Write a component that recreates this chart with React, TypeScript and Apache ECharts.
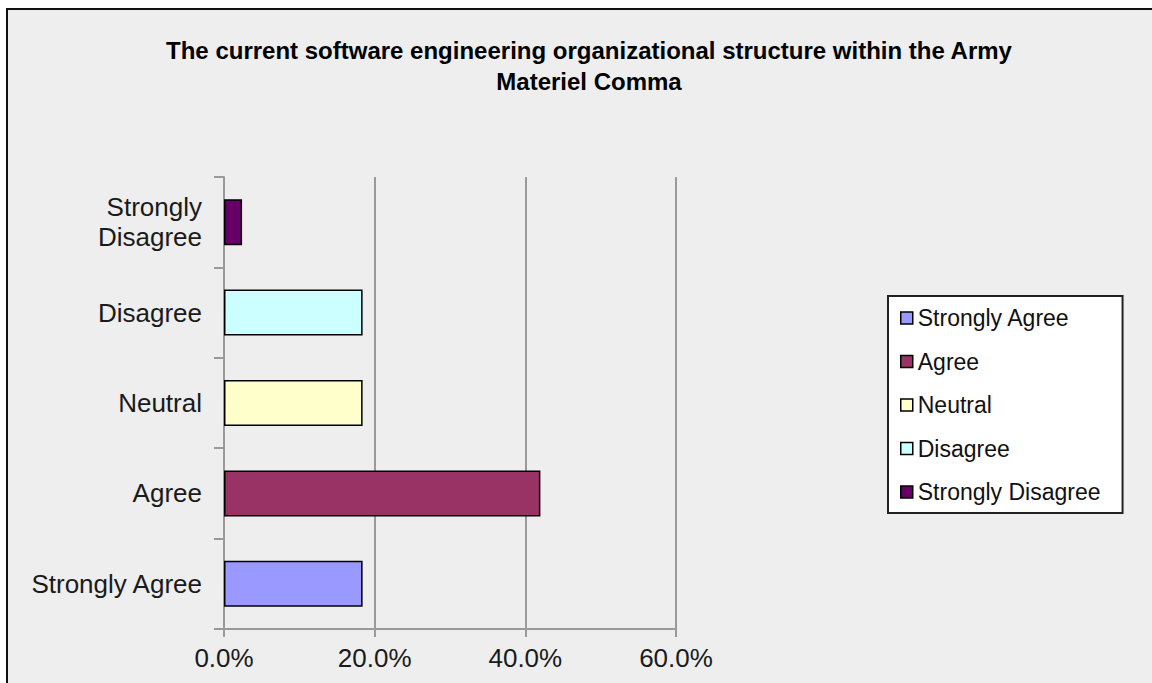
import React, { useEffect, useRef } from "react";
import * as echarts from "echarts";

const titleLines = [
  "The current software engineering organizational structure within the Army",
  "Materiel Comma",
];
const categories = ["Strongly Agree", "Agree", "Neutral", "Disagree", "Strongly Disagree"];
const axisLabels = ["Strongly Agree", "Agree", "Neutral", "Disagree", "Strongly\nDisagree"];
const values = [18.4, 42.0, 18.4, 18.4, 2.4];
const colors = ["#9999ff", "#993366", "#ffffcc", "#ccffff", "#660066"];
const xTicks = [0, 20, 40, 60];

const FONT = "'Liberation Sans', Arial, sans-serif";

export default function App() {
  const ref = useRef<HTMLDivElement>(null);
  useEffect(() => {
    if (!ref.current) return;
    const chart = echarts.init(ref.current, null, { renderer: "svg" });
    const series = categories.map((name, i) => ({
      name,
      type: "bar",
      stack: "all",
      barWidth: 46,
      data: values.map((v, j) => (j === i ? v : "-")),
      itemStyle: { color: colors[i], borderColor: "#000", borderWidth: 1.5 },
    }));
    chart.setOption({
      animation: false,
      backgroundColor: "#eeeeee",
      textStyle: { fontFamily: FONT },
      graphic: [
        { type: "rect", z: 100, shape: { x: 0, y: 0, width: 1152, height: 8 }, style: { fill: "#ffffff" } },
        { type: "rect", z: 100, shape: { x: 0, y: 0, width: 6, height: 683 }, style: { fill: "#ffffff" } },
        { type: "line", z: 101, shape: { x1: 6, y1: 9, x2: 1152, y2: 9 }, style: { stroke: "#111", lineWidth: 2 } },
        { type: "line", z: 101, shape: { x1: 7, y1: 8, x2: 7, y2: 683 }, style: { stroke: "#111", lineWidth: 2 } },
        {
          type: "text",
          z: 101,
          x: 589,
          y: 35,
          style: {
            text: titleLines.join("\n"),
            font: `bold 24px ${FONT}`,
            fill: "#000",
            textAlign: "center",
            textVerticalAlign: "top",
            lineHeight: 31,
          },
        },
      ],
      grid: { left: 224, top: 177, width: 452, height: 452, containLabel: false },
      xAxis: {
        type: "value",
        min: xTicks[0],
        max: xTicks[xTicks.length - 1],
        interval: 20,
        axisLine: { show: true, lineStyle: { color: "#9a9a9a", width: 2 } },
        axisTick: { show: true, length: 8, lineStyle: { color: "#9a9a9a", width: 2 } },
        splitLine: { show: true, lineStyle: { color: "#9a9a9a", width: 2 } },
        axisLabel: {
          margin: 16,
          fontSize: 26,
          color: "#1a1a1a",
          fontFamily: FONT,
          formatter: (v: number) => `${v.toFixed(1)}%`,
        },
      },
      yAxis: {
        type: "category",
        data: categories,
        axisLine: { show: true, lineStyle: { color: "#9a9a9a", width: 2 } },
        axisTick: { show: true, length: 10, lineStyle: { color: "#9a9a9a", width: 2 } },
        splitLine: { show: false },
        axisLabel: {
          margin: 22,
          fontSize: 26,
          lineHeight: 30,
          color: "#1a1a1a",
          fontFamily: FONT,
          align: "right",
          formatter: (_v: string, i: number) => axisLabels[i],
        },
      },
      legend: {
        orient: "vertical",
        left: 888,
        top: 296,
        padding: [10, 22, 9, 12],
        backgroundColor: "#ffffff",
        borderColor: "#222",
        borderWidth: 2,
        borderRadius: 0,
        itemWidth: 12,
        itemHeight: 12,
        itemGap: 19.5,
        itemStyle: { borderColor: "#000", borderWidth: 1.5 },
        icon: "rect",
        data: categories,
        textStyle: { fontSize: 23, lineHeight: 24, color: "#111", fontFamily: FONT, padding: [0, 0, 0, 0] },
      },
      series,
    });
    return () => chart.dispose();
  }, []);
  return (
    <div
      ref={ref}
      style={{ position: "absolute", left: 0, top: 0, width: 1152, height: 683 }}
    />
  );
}
